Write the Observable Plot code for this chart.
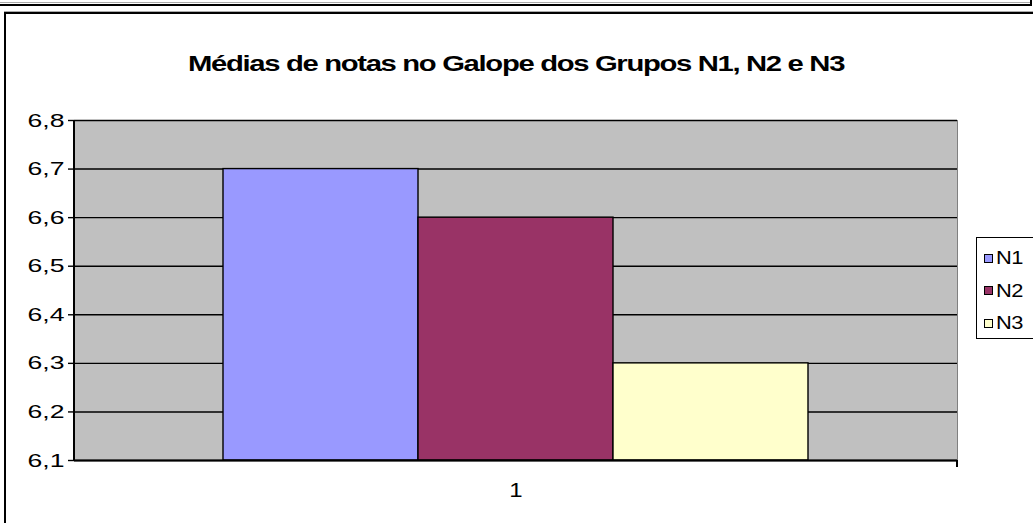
<!DOCTYPE html>
<html>
<head>
<meta charset="utf-8">
<script src="https://cdn.jsdelivr.net/npm/d3@7"></script>
<script src="https://cdn.jsdelivr.net/npm/@observablehq/plot@0.6"></script>
<style>
  html, body { margin: 0; padding: 0; background: #fff; }
  #wrap { position: relative; width: 1033px; height: 523px; overflow: hidden; font-family: "Liberation Sans", Arial, sans-serif; }
  #wrap svg { position: absolute; left: 0; top: 0; }
  .deco { position: absolute; }
  #legend { position: absolute; left: 976px; top: 237px; width: 80px; height: 102px; border: 1px solid #000; background: #fff; box-sizing: border-box; }
  .item { position: absolute; left: 7px; height: 22px; display: flex; align-items: center; }
  .sw { width: 9px; height: 9px; border: 1px solid #000; box-sizing: border-box; margin-right: 3px; }
  .lab { font-size: 19px; color: #000; display: inline-block; transform: scaleX(1.15); transform-origin: left center; letter-spacing: -0.5px; }
</style>
</head>
<body>
<div id="wrap"></div>
<script>
const title = "Médias de notas no Galope dos Grupos N1, N2 e N3";
const categories = ["1"];
const series = ["N1", "N2", "N3"];
const values = [6.7, 6.6, 6.3];
const yTicks = [6.1, 6.2, 6.3, 6.4, 6.5, 6.6, 6.7, 6.8];
const colors = ["#9999FF", "#993366", "#FFFFCC"];

const data = series.map((s, i) => ({series: s, value: values[i]}));
const fmt = d => d.toFixed(1).replace(".", ",");

const chart = Plot.plot({
  width: 1033,
  height: 523,
  marginLeft: 74,
  marginRight: 76,
  marginTop: 120,
  marginBottom: 63,
  style: {fontFamily: "'Liberation Sans', Arial, sans-serif", fontSize: "19px", background: "transparent", color: "#000", overflow: "visible"},
  x: {type: "band", domain: series, range: [222, 808], padding: 0, axis: null},
  y: {domain: [6.1, 6.8], label: null, axis: null},
  color: {domain: series, range: colors},
  marks: [
    Plot.frame({fill: "#C0C0C0", stroke: "#808080"}),
    Plot.gridY(yTicks, {stroke: "#000", strokeOpacity: 1, strokeWidth: 1.4}),
    Plot.barY(data, {x: "series", y1: 6.1, y2: "value", fill: "series", stroke: "#000", strokeWidth: 1.4}),
    Plot.ruleY([6.1], {stroke: "#000", strokeWidth: 1.8}),
    Plot.axisY({ticks: yTicks, tickSize: 6, tickPadding: 4, tickFormat: fmt, stroke: "#000", strokeWidth: 1.4, fontSize: 19, label: null}),
    Plot.text([title], {frameAnchor: "top", dy: -65, text: d => d, fontWeight: "bold", fontSize: 22, fill: "#000"}),
    Plot.text(categories, {frameAnchor: "bottom", dy: 36, text: d => d, fontSize: 20, fill: "#000"})
  ]
});

const wrap = document.getElementById("wrap");

function addDiv(css) {
  const d = document.createElement("div");
  d.className = "deco";
  d.style.cssText = css;
  wrap.appendChild(d);
}
// top neighbour border
addDiv("left:0;top:2px;width:1031px;height:1px;background:#aaa;");
addDiv("left:0;top:4px;width:1031px;height:2px;background:#000;");
addDiv("left:1030px;top:0;width:1.5px;height:6px;background:#000;");
// chart area border
addDiv("left:4px;top:11px;width:1040px;height:1px;background:#aaa;");
addDiv("left:4px;top:12px;width:1040px;height:2px;background:#000;");
addDiv("left:4px;top:12px;width:2px;height:520px;background:#000;");

wrap.appendChild(chart);

// plot-area left axis line and last category tick
addDiv("left:73px;top:120px;width:1.5px;height:341px;background:#000;");
addDiv("left:956px;top:460px;width:1.5px;height:7px;background:#000;");

// legend
const legend = document.createElement("div");
legend.id = "legend";
series.forEach((s, i) => {
  const it = document.createElement("div");
  it.className = "item";
  it.style.top = (9 + i * 32.5) + "px";
  const sw = document.createElement("span");
  sw.className = "sw";
  sw.style.background = colors[i];
  const lab = document.createElement("span");
  lab.className = "lab";
  lab.textContent = s;
  it.appendChild(sw); it.appendChild(lab);
  legend.appendChild(it);
});
wrap.appendChild(legend);

// horizontal stretch of text, as in the reference (scale about each text's anchor point)
const svg = wrap.querySelector("svg");
svg.querySelectorAll("text").forEach(t => {
  let sx = 1.4;
  const txt = t.textContent;
  if (txt === title) {
    sx = 1.33;
    t.style.letterSpacing = "-1px";
  } else if (categories.includes(txt)) sx = 1.2;
  const tr = t.getAttribute("transform");
  if (tr) {
    t.setAttribute("transform", tr + ` scale(${sx},1)`);
  } else {
    const x = parseFloat(t.getAttribute("x")) || 0;
    t.setAttribute("transform", `translate(${x},0) scale(${sx},1) translate(${-x},0)`);
  }
});
</script>
</body>
</html>
